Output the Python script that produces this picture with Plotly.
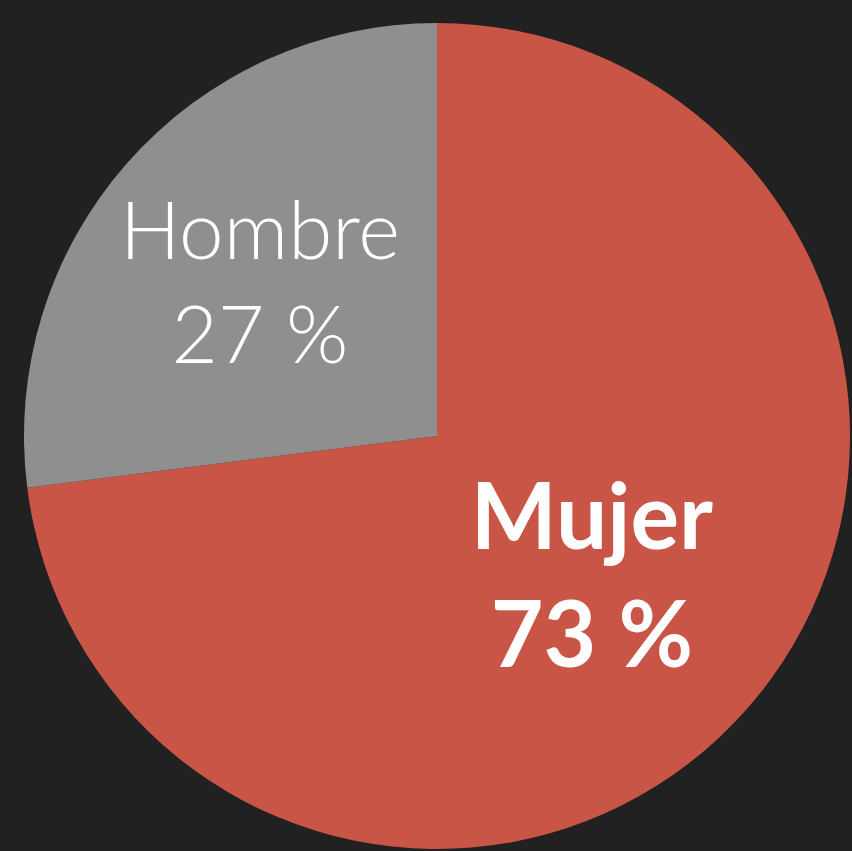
import plotly.graph_objects as go

labels = ["Mujer", "Hombre"]
values = [73, 27]
slice_colors = ["#c95547", "#8f8f8f"]
text_sizes = [91, 80]
text_weights = [700, 300]

fig = go.Figure(
    go.Pie(
        labels=labels,
        values=values,
        sort=False,
        direction="clockwise",
        rotation=0,
        marker=dict(colors=slice_colors, line=dict(width=0)),
        texttemplate="%{label}<br>%{value} %",
        textposition="inside",
        insidetextorientation="horizontal",
        insidetextfont=dict(
            family="Lato",
            size=text_sizes,
            color="white",
            weight=text_weights,
        ),
        showlegend=False,
        hoverinfo="none",
        domain=dict(x=[24 / 852, 850 / 852], y=[1 / 851, 829 / 851]),
    )
)

fig.update_layout(
    width=852,
    height=851,
    margin=dict(l=0, r=0, t=0, b=0),
    paper_bgcolor="#212121",
    plot_bgcolor="#212121",
)

fig.write_html(
    "out.html",
    config={"displayModeBar": False},
    post_script="document.body.style.margin='0';document.body.style.background='#212121';document.body.style.overflow='hidden';",
)
